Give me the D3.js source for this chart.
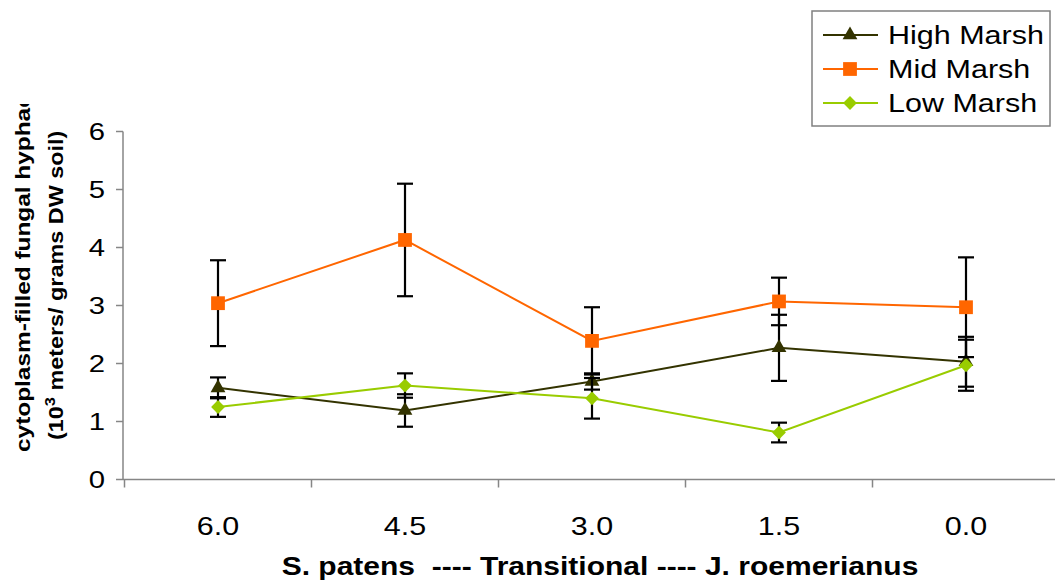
<!DOCTYPE html>
<html>
<head>
<meta charset="utf-8">
<script src="https://cdn.jsdelivr.net/npm/d3@7"></script>
<style>
  body { margin: 0; background: #fff; }
  text { font-family: "Liberation Sans", Arial, sans-serif; fill: #000; }
</style>
</head>
<body>
<div id="chart"></div>
<script>
// distance categories (x axis) and y ticks
var cats = ["6.0", "4.5", "3.0", "1.5", "0.0"];
var yTicks = [0, 1, 2, 3, 4, 5, 6];

// series means and error bar half-widths
var highMarsh = [1.58, 1.19, 1.69, 2.27, 2.03];
var highErr = [0.18, 0.28, 0.14, 0.57, 0.43];
var midMarsh = [3.04, 4.13, 2.39, 3.07, 2.97];
var midErr = [0.74, 0.97, 0.58, 0.41, 0.86];
var lowMarsh = [1.25, 1.62, 1.40, 0.81, 1.97];
var lowErr = [0.17, 0.21, 0.35, 0.17, 0.44];

var seriesNames = ["High Marsh", "Mid Marsh", "Low Marsh"];

var W = 1055, H = 585;
var K = 1.22; // text in the picture runs wider than plain Arial

var series = [
  { name: seriesNames[0], vals: highMarsh, err: highErr, color: "#333300", shape: d3.symbolTriangle, size: 95, rot: 0 },
  { name: seriesNames[1], vals: midMarsh, err: midErr, color: "#ff6600", shape: d3.symbolSquare, size: 190, rot: 0 },
  { name: seriesNames[2], vals: lowMarsh, err: lowErr, color: "#99cc00", shape: d3.symbolSquare, size: 95, rot: 45 }
];

var svg = d3.select("#chart").append("svg").attr("width", W).attr("height", H);

var x = d3.scaleBand().domain(cats).range([124.5, 1059.5]);
var y = d3.scaleLinear().domain([0, 6]).range([479.5, 131.5]);
var cx = function(c) { return x(c) + x.bandwidth() / 2; };

var axisColor = "#868686";

// y axis
svg.append("line").attr("x1", 123).attr("x2", 123).attr("y1", y(6)).attr("y2", y(0))
  .attr("stroke", axisColor).attr("stroke-width", 1.5);
svg.selectAll(".ytick").data(yTicks).enter().append("line")
  .attr("x1", 116).attr("x2", 123).attr("y1", function(d) { return y(d); }).attr("y2", function(d) { return y(d); })
  .attr("stroke", axisColor).attr("stroke-width", 1.5);
svg.selectAll(".ylab").data(yTicks).enter().append("text")
  .attr("transform", function(d) { return "translate(105," + (y(d) + 8.5) + ") scale(" + K + ",1)"; })
  .attr("text-anchor", "end").attr("font-size", 24).text(function(d) { return d; });

// x axis
svg.append("line").attr("x1", 123).attr("x2", W).attr("y1", y(0)).attr("y2", y(0))
  .attr("stroke", axisColor).attr("stroke-width", 1.5);
svg.selectAll(".xtick").data(cats).enter().append("line")
  .attr("x1", function(d) { return x(d); }).attr("x2", function(d) { return x(d); })
  .attr("y1", y(0)).attr("y2", y(0) + 8)
  .attr("stroke", axisColor).attr("stroke-width", 1.5);
svg.selectAll(".xlab").data(cats).enter().append("text")
  .attr("transform", function(d) { return "translate(" + cx(d) + ",535) scale(" + K + ",1)"; })
  .attr("text-anchor", "middle").attr("font-size", 25).text(function(d) { return d; });

// x title
svg.append("text").attr("transform", "translate(600,575) scale(1.2,1)")
  .attr("text-anchor", "middle").attr("font-size", 25).attr("font-weight", "bold")
  .attr("xml:space", "preserve")
  .text("S. patens  ---- Transitional ---- J. roemerianus");

// y title, clipped at the top like the original
svg.append("clipPath").attr("id", "yclip").append("rect")
  .attr("x", 0).attr("y", 104).attr("width", 100).attr("height", 400);
var yt = svg.append("g").attr("clip-path", "url(#yclip)");
yt.append("text").attr("transform", "translate(30,452) rotate(-90) scale(" + K + ",1)")
  .attr("font-size", 20).attr("font-weight", "bold")
  .text("cytoplasm-filled fungal hyphae");
var t2 = yt.append("text").attr("transform", "translate(63,440) rotate(-90) scale(1.17,1)")
  .attr("font-size", 20).attr("font-weight", "bold");
t2.append("tspan").text("(10");
t2.append("tspan").attr("font-size", 14).attr("dy", -8).text("3");
t2.append("tspan").attr("dy", 8).text(" meters/ grams DW soil)");

// series
var line = d3.line().x(function(d, i) { return cx(cats[i]); }).y(function(d) { return y(d); });

series.forEach(function(s) {
  var g = svg.append("g");
  g.append("path").datum(s.vals).attr("d", line)
    .attr("fill", "none").attr("stroke", s.color).attr("stroke-width", 2);
  var eb = g.selectAll(".eb").data(s.vals).enter().append("g");
  eb.append("line")
    .attr("x1", function(d, i) { return cx(cats[i]); }).attr("x2", function(d, i) { return cx(cats[i]); })
    .attr("y1", function(d, i) { return y(d + s.err[i]); }).attr("y2", function(d, i) { return y(d - s.err[i]); })
    .attr("stroke", "#000").attr("stroke-width", 2.2);
  [1, -1].forEach(function(sg) {
    eb.append("line")
      .attr("x1", function(d, i) { return cx(cats[i]) - 8; }).attr("x2", function(d, i) { return cx(cats[i]) + 8; })
      .attr("y1", function(d, i) { return y(d + sg * s.err[i]); }).attr("y2", function(d, i) { return y(d + sg * s.err[i]); })
      .attr("stroke", "#000").attr("stroke-width", 2.2);
  });
  g.selectAll(".mk").data(s.vals).enter().append("path")
    .attr("d", d3.symbol().type(s.shape).size(s.size))
    .attr("transform", function(d, i) { return "translate(" + cx(cats[i]) + "," + y(d) + ") rotate(" + s.rot + ")"; })
    .attr("fill", s.color);
});

// legend
var lg = svg.append("g");
lg.append("rect").attr("x", 812).attr("y", 11).attr("width", 238).attr("height", 115)
  .attr("fill", "#fff").attr("stroke", "#808080").attr("stroke-width", 1.5);
series.forEach(function(s, i) {
  var ly = 35 + i * 34;
  lg.append("line").attr("x1", 823).attr("x2", 878).attr("y1", ly).attr("y2", ly)
    .attr("stroke", s.color).attr("stroke-width", 2);
  lg.append("path").attr("d", d3.symbol().type(s.shape).size(s.size))
    .attr("transform", "translate(850," + ly + ") rotate(" + s.rot + ")").attr("fill", s.color);
  lg.append("text").attr("transform", "translate(888," + (ly + 9) + ") scale(" + K + ",1)")
    .attr("font-size", 25).text(s.name);
});
</script>
</body>
</html>
